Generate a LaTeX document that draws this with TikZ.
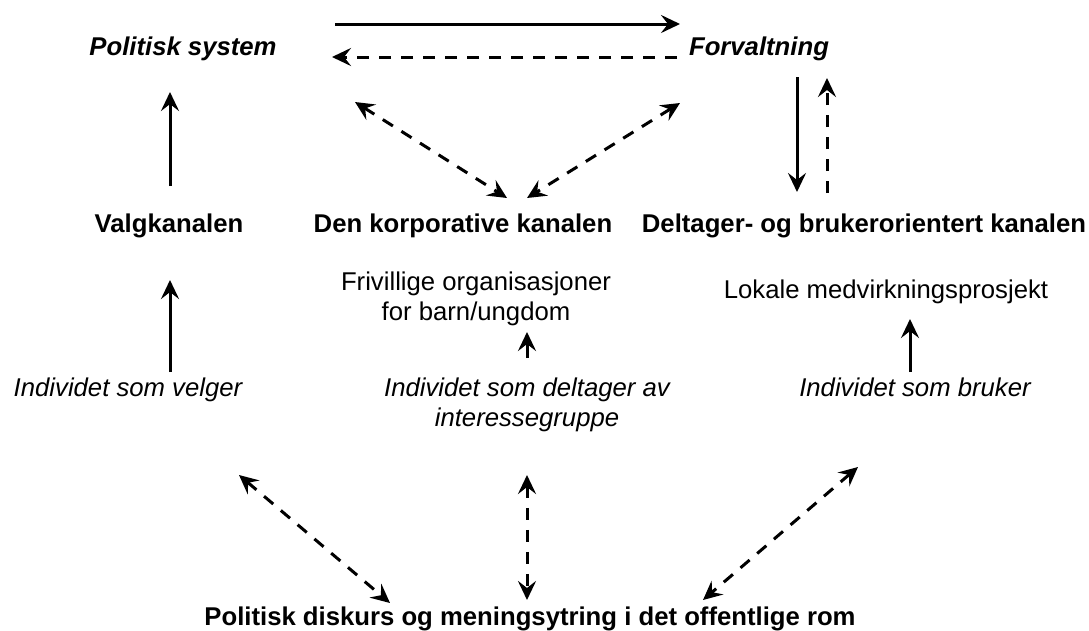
\documentclass[tikz,border=0pt]{standalone}
\usepackage{fontspec}
\setmainfont{Liberation Sans}
\usetikzlibrary{arrows.meta}
\begin{document}
\begin{tikzpicture}[x=1pt,y=-1pt,
  txt/.style={anchor=base, inner sep=0, font=\fontsize{25.7}{30}\selectfont},
  bold/.style={txt, font=\fontsize{25.7}{30}\selectfont\bfseries},
  bolditalic/.style={txt, font=\fontsize{25.7}{30}\selectfont\bfseries\itshape},
  ital/.style={txt, font=\fontsize{25.7}{30}\selectfont\itshape},
  conn/.style={line width=3pt, -{Stealth[length=19pt,width=18pt,inset=7pt]}},
  dconn/.style={conn, dash pattern=on 12pt off 10pt},
  ddconn/.style={dconn, {Stealth[length=19pt,width=18pt,inset=7pt]}-{Stealth[length=19pt,width=18pt,inset=7pt]}}]
\useasboundingbox (0,0) rectangle (1089,630);
% texts
\node[bolditalic] (pol) at (183,55) {Politisk system};
\node[bolditalic] (forv) at (759,55) {Forvaltning};
\node[bold] (valg) at (169,232) {Valgkanalen};
\node[bold] (korp) at (463,232) {Den korporative kanalen};
\node[bold] (delt) at (864,232) {Deltager- og brukerorientert kanalen};
\node[txt, align=center] (friv) at (476,320) {Frivillige organisasjoner\\for barn/ungdom};
\node[txt] (lok) at (886,298) {Lokale medvirkningsprosjekt};
\node[ital] (velg) at (128,396) {Individet som velger};
\node[ital, align=center] (intr) at (527,426) {Individet som deltager av\\interessegruppe};
\node[ital] (bruk) at (915,396) {Individet som bruker};
\node[bold] (disk) at (530,625) {Politisk diskurs og meningsytring i det offentlige rom};
% endpoints
\coordinate (t1a) at (335,24); \coordinate (t1b) at (680,24);
\coordinate (t2a) at (677,57); \coordinate (t2b) at (332,57);
\coordinate (dla) at (355,102); \coordinate (dlb) at (507,198);
\coordinate (dra) at (680,103); \coordinate (drb) at (527,198);
\coordinate (rsa) at (797,77); \coordinate (rsb) at (797,192);
\coordinate (rda) at (827,193); \coordinate (rdb) at (827,78);
\coordinate (lua) at (170,186); \coordinate (lub) at (170,92);
\coordinate (lla) at (170,372); \coordinate (llb) at (170,280);
\coordinate (mua) at (527,358); \coordinate (mub) at (527,332);
\coordinate (rua) at (910,372); \coordinate (rub) at (910,319);
\coordinate (bla) at (239,475); \coordinate (blb) at (390,603);
\coordinate (bma) at (527,475); \coordinate (bmb) at (527,600);
\coordinate (bra) at (858,467); \coordinate (brb) at (703,600);
% connectors
\draw[conn] (t1a) -- (t1b);
\draw[dconn] (t2a) -- (t2b);
\draw[ddconn] (dla) -- (dlb);
\draw[ddconn] (dra) -- (drb);
\draw[conn] (rsa) -- (rsb);
\draw[dconn] (rda) -- (rdb);
\draw[conn] (lua) -- (lub);
\draw[conn] (lla) -- (llb);
\draw[conn] (mua) -- (mub);
\draw[conn] (rua) -- (rub);
\draw[ddconn] (bla) -- (blb);
\draw[ddconn] (bma) -- (bmb);
\draw[ddconn] (bra) -- (brb);
\end{tikzpicture}
\end{document}
